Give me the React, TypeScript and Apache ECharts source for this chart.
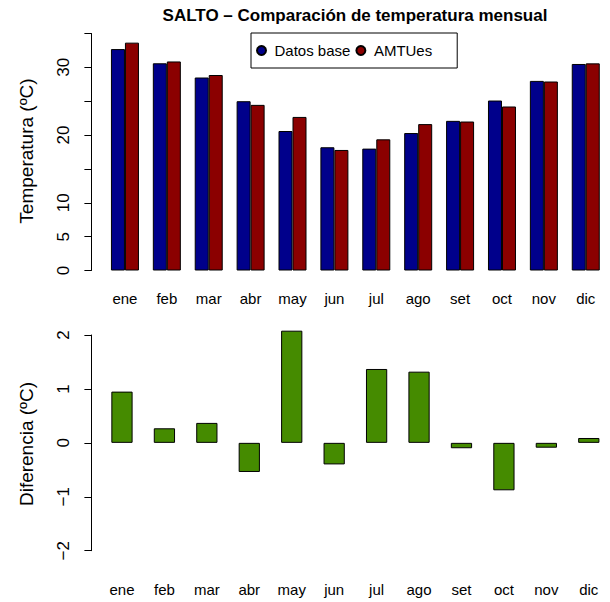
import React, { useEffect, useRef } from 'react';
import * as echarts from 'echarts';

const months = ['ene', 'feb', 'mar', 'abr', 'may', 'jun', 'jul', 'ago', 'set', 'oct', 'nov', 'dic'];
const datosBase = [32.7, 30.6, 28.5, 25.0, 20.6, 18.2, 18.0, 20.3, 22.1, 25.1, 28.0, 30.5];
const amtues = [33.65, 30.87, 28.87, 24.46, 22.68, 17.8, 19.37, 21.62, 22.0, 24.22, 27.91, 30.59];
const diferencia = [0.95, 0.27, 0.37, -0.54, 2.08, -0.4, 1.37, 1.32, -0.1, -0.88, -0.09, 0.09];
const topTickLabels = ['0', '5', '10', '20', '30'];

const FONT = '"Liberation Sans", Arial, Helvetica, sans-serif';

export default function App() {
  const ref = useRef<HTMLDivElement>(null);
  useEffect(() => {
    document.body.style.margin = '0';
    if (!ref.current) return;
    const chart = echarts.init(ref.current, undefined, { renderer: 'svg' });
    chart.setOption({
      animation: false,
      backgroundColor: '#fff',
      textStyle: { fontFamily: FONT },
      title: {
        text: 'SALTO \u2013 Comparación de temperatura mensual',
        left: 355,
        top: 7,
        textAlign: 'center',
        padding: 0,
        textStyle: { fontFamily: FONT, fontSize: 17, fontWeight: 'bold', color: '#000' },
      },
      legend: {
        left: 251,
        top: 33,
        icon: 'circle',
        itemWidth: 16,
        itemHeight: 9,
        itemGap: 5,
        padding: [10, 25, 10, 5],
        borderColor: '#000',
        borderWidth: 1,
        textStyle: { fontFamily: FONT, fontSize: 15, color: '#000' },
        data: ['Datos base', 'AMTUes'],
      },
      graphic: [
        {
          type: 'text',
          x: 26,
          y: 151,
          rotation: Math.PI / 2,
          style: {
            text: 'Temperatura (ºC)',
            fontFamily: FONT,
            fontSize: 19,
            fill: '#000',
            align: 'center',
            verticalAlign: 'middle',
          },
        },
        {
          type: 'text',
          x: 26,
          y: 444,
          rotation: Math.PI / 2,
          style: {
            text: 'Diferencia (ºC)',
            fontFamily: FONT,
            fontSize: 19,
            fill: '#000',
            align: 'center',
            verticalAlign: 'middle',
          },
        },
      ],
      grid: [
        { left: 104, right: 3.3, top: 33.5, height: 237 },
        { left: 100.75, right: -0.75, top: 335, height: 215.7 },
      ],
      xAxis: [
        {
          type: 'category',
          gridIndex: 0,
          data: months,
          axisLine: { show: false },
          axisTick: { show: false },
          axisLabel: { margin: 20, fontSize: 15, color: '#000', fontFamily: FONT },
        },
        {
          type: 'category',
          gridIndex: 1,
          data: months,
          axisLine: { show: false },
          axisTick: { show: false },
          axisLabel: { margin: 31, fontSize: 15, color: '#000', fontFamily: FONT },
        },
      ],
      yAxis: [
        {
          type: 'value',
          gridIndex: 0,
          min: 0,
          max: 35,
          interval: 5,
          offset: 12.6,
          splitLine: { show: false },
          axisLine: { show: true, lineStyle: { color: '#000', width: 1 } },
          axisTick: { show: true, length: 7, lineStyle: { color: '#000' } },
          axisLabel: {
            rotate: 90,
            margin: 19,
            fontSize: 17,
            color: '#000',
            fontFamily: FONT,
            formatter: (v: number) => (topTickLabels.includes(String(v)) ? String(v) : ''),
          },
        },
        {
          type: 'value',
          gridIndex: 1,
          min: -2,
          max: 2,
          interval: 1,
          offset: 9.35,
          splitLine: { show: false },
          axisLine: { show: true, lineStyle: { color: '#000', width: 1 } },
          axisTick: { show: true, length: 7, lineStyle: { color: '#000' } },
          axisLabel: {
            rotate: 90,
            margin: 19,
            fontSize: 17,
            color: '#000',
            fontFamily: FONT,
            formatter: (v: number) => String(v).replace('-', '\u2212'),
          },
        },
      ],
      series: [
        {
          name: 'Datos base',
          type: 'bar',
          xAxisIndex: 0,
          yAxisIndex: 0,
          data: datosBase,
          barWidth: 14,
          barGap: '0%',
          itemStyle: { color: '#00008B', borderColor: '#000', borderWidth: 1 },
        },
        {
          name: 'AMTUes',
          type: 'bar',
          xAxisIndex: 0,
          yAxisIndex: 0,
          data: amtues,
          barWidth: 14,
          barGap: '0%',
          itemStyle: { color: '#8B0000', borderColor: '#000', borderWidth: 1 },
        },
        {
          name: 'Diferencia',
          type: 'bar',
          xAxisIndex: 1,
          yAxisIndex: 1,
          data: diferencia,
          barWidth: 21.25,
          clip: false,
          itemStyle: { color: '#458B00', borderColor: '#000', borderWidth: 1 },
        },
      ],
    });
    return () => chart.dispose();
  }, []);
  return <div ref={ref} style={{ width: 610, height: 602 }} />;
}
